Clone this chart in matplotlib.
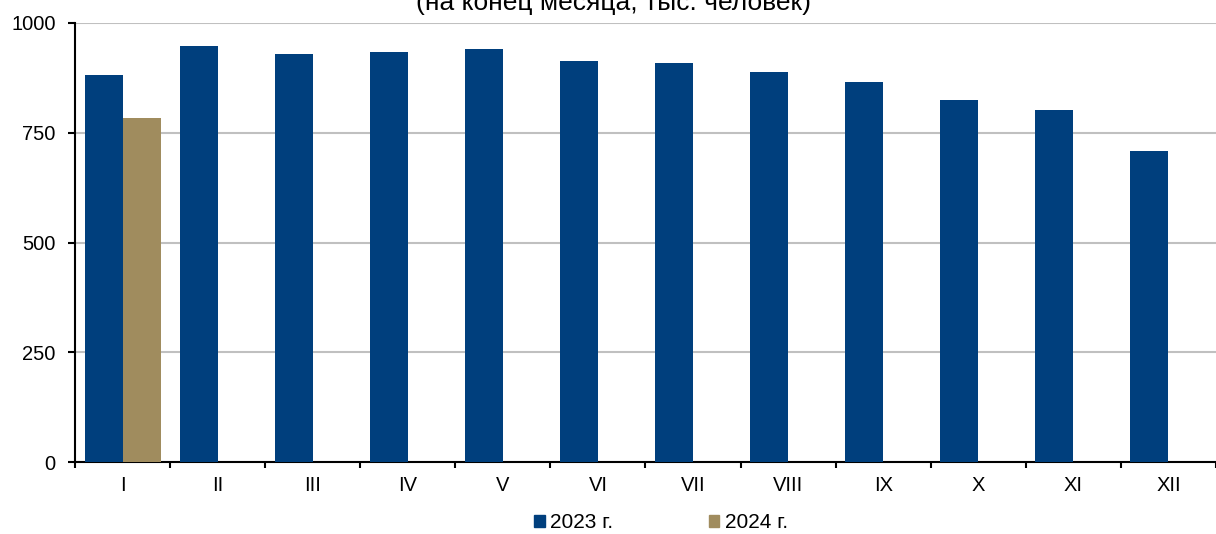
import numpy as np
import matplotlib.pyplot as plt
from matplotlib.patches import Patch

plt.rcParams['font.family'] = ['Liberation Sans', 'DejaVu Sans']
plt.rcParams['font.size'] = 14.5

months = ["I", "II", "III", "IV", "V", "VI", "VII", "VIII", "IX", "X", "XI", "XII"]
vals2023 = [882, 948, 929, 934, 941, 913, 909, 888, 866, 825, 802, 708]
vals2024 = [784]

col2023 = "#003F7D"
col2024 = "#A08C5E"

fig = plt.figure(figsize=(12.16, 5.34), dpi=100)
ax = fig.add_axes([75/1216, 1 - 462/534, 1 - 75/1216, 439/534])

x = np.arange(len(months))
w = 0.4
ax.bar(x - w/2, vals2023, width=w, color=col2023, zorder=3)
ax.bar(x[:len(vals2024)] + w/2, vals2024, width=w, color=col2024, zorder=3)

ax.set_xlim(-0.5, len(months) - 0.5)
ax.set_ylim(0, 1000)
ax.set_yticks([0, 250, 500, 750, 1000])
ax.yaxis.grid(True, color="#C0C0C0", linewidth=1.5, zorder=0)
ax.set_axisbelow(True)

# ticks at category boundaries, labels at centres
ax.set_xticks(np.arange(len(months) + 1) - 0.5)
ax.set_xticklabels([])
ax.set_xticks(x, minor=True)
ax.set_xticklabels(months, minor=True)
ax.tick_params(axis="x", which="major", direction="out", length=4, width=1.5)
ax.tick_params(axis="x", which="minor", length=0, pad=10)
ax.tick_params(axis="y", direction="out", length=5, width=1.5, pad=9)

for s in ["top", "right"]:
    ax.spines[s].set_visible(False)
ax.spines["left"].set_linewidth(1.5)
ax.spines["bottom"].set_linewidth(1.5)

fig.text(613/1216, 1 - 10/534, "(на конец месяца, тыс. человек)", ha="center",
         va="baseline", fontsize=19)

handles = [Patch(color=col2023, label="2023 г."), Patch(color=col2024, label="2024 г.")]
fig.legend(handles=handles, loc="center", bbox_to_anchor=(661/1216, 1 - 523/534),
           ncol=2, frameon=False, handlelength=0.5, handleheight=0.5,
           handletextpad=0.25, columnspacing=4.6, fontsize=15,
           borderpad=0.2)

fig.savefig("out.png", dpi=100)
